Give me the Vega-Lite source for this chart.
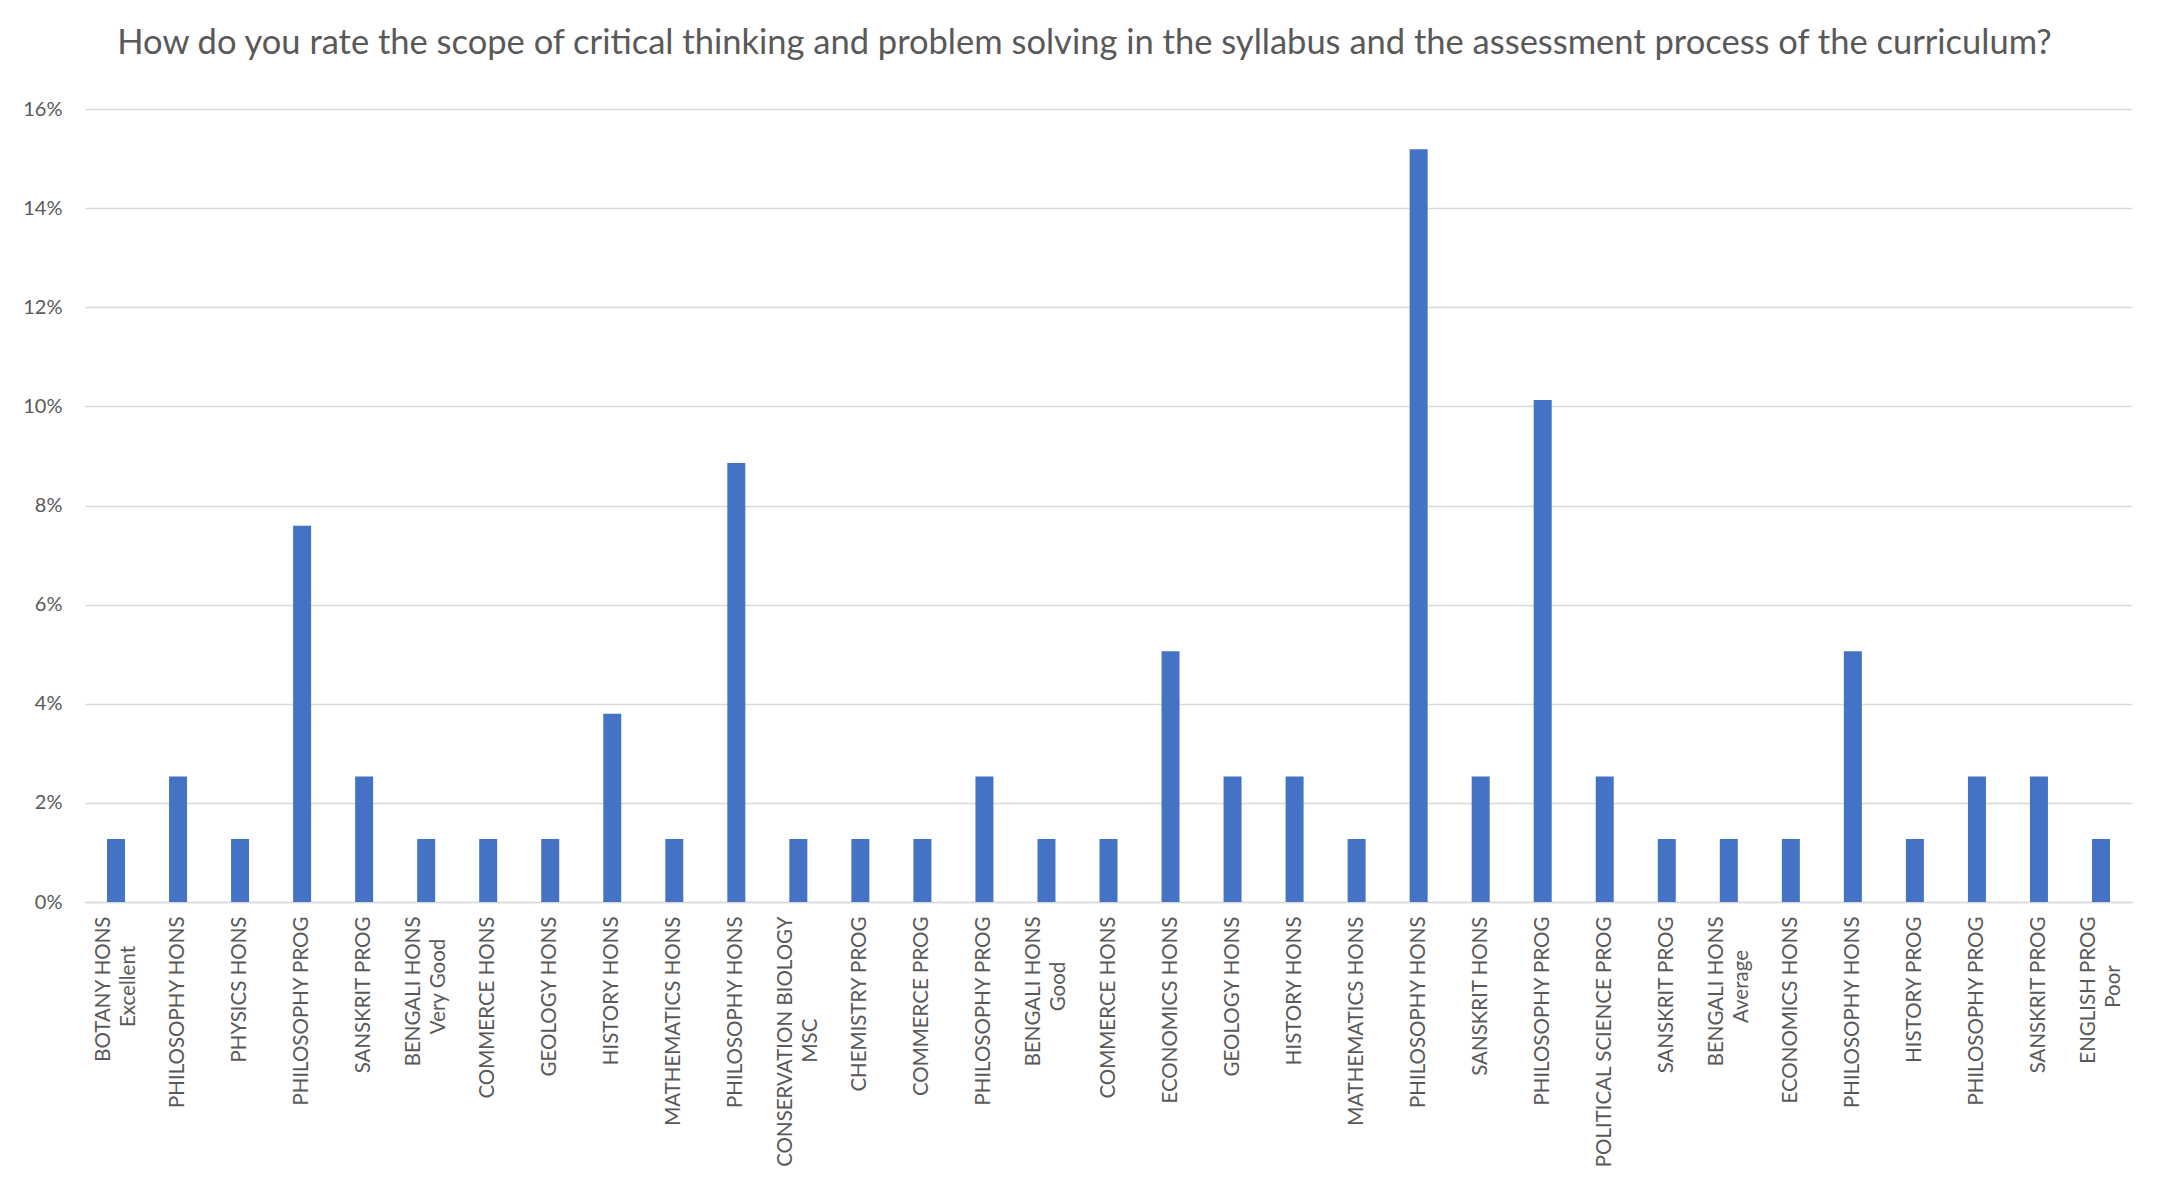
{
  "$schema": "https://vega.github.io/schema/vega-lite/v6.json",
  "width": 2047,
  "height": 793,
  "autosize": "none",
  "padding": {"left": 85, "top": 109, "right": 27, "bottom": 282},
  "background": "white",
  "title": {
    "text": "How do you rate the scope of critical thinking and problem solving in the syllabus and the assessment process of the curriculum?",
    "font": "Lato",
    "fontSize": 34.5,
    "fontWeight": "normal",
    "color": "#595959",
    "anchor": "middle",
    "dx": -24,
    "baseline": "alphabetic",
    "offset": 11
  },
  "data": {
    "values": [
      {"key": "01|BOTANY HONS|Excellent", "pct": 0.0127},
      {"key": "02|PHILOSOPHY HONS|", "pct": 0.0253},
      {"key": "03|PHYSICS HONS|", "pct": 0.0127},
      {"key": "04|PHILOSOPHY PROG|", "pct": 0.0759},
      {"key": "05|SANSKRIT PROG|", "pct": 0.0253},
      {"key": "06|BENGALI HONS|Very Good", "pct": 0.0127},
      {"key": "07|COMMERCE HONS|", "pct": 0.0127},
      {"key": "08|GEOLOGY HONS|", "pct": 0.0127},
      {"key": "09|HISTORY HONS|", "pct": 0.038},
      {"key": "10|MATHEMATICS HONS|", "pct": 0.0127},
      {"key": "11|PHILOSOPHY HONS|", "pct": 0.0886},
      {"key": "12|CONSERVATION BIOLOGY|MSC", "pct": 0.0127},
      {"key": "13|CHEMISTRY PROG|", "pct": 0.0127},
      {"key": "14|COMMERCE PROG|", "pct": 0.0127},
      {"key": "15|PHILOSOPHY PROG|", "pct": 0.0253},
      {"key": "16|BENGALI HONS|Good", "pct": 0.0127},
      {"key": "17|COMMERCE HONS|", "pct": 0.0127},
      {"key": "18|ECONOMICS HONS|", "pct": 0.0506},
      {"key": "19|GEOLOGY HONS|", "pct": 0.0253},
      {"key": "20|HISTORY HONS|", "pct": 0.0253},
      {"key": "21|MATHEMATICS HONS|", "pct": 0.0127},
      {"key": "22|PHILOSOPHY HONS|", "pct": 0.1519},
      {"key": "23|SANSKRIT HONS|", "pct": 0.0253},
      {"key": "24|PHILOSOPHY PROG|", "pct": 0.1013},
      {"key": "25|POLITICAL SCIENCE PROG|", "pct": 0.0253},
      {"key": "26|SANSKRIT PROG|", "pct": 0.0127},
      {"key": "27|BENGALI HONS|Average", "pct": 0.0127},
      {"key": "28|ECONOMICS HONS|", "pct": 0.0127},
      {"key": "29|PHILOSOPHY HONS|", "pct": 0.0506},
      {"key": "30|HISTORY PROG|", "pct": 0.0127},
      {"key": "31|PHILOSOPHY PROG|", "pct": 0.0253},
      {"key": "32|SANSKRIT PROG|", "pct": 0.0253},
      {"key": "33|ENGLISH PROG|Poor", "pct": 0.0127}
    ]
  },
  "layer": [
    {
      "mark": {"type": "bar", "color": "#4472C4"},
      "encoding": {
        "x": {
          "field": "key",
          "type": "nominal",
          "sort": null,
          "scale": {"paddingInner": 0.71, "paddingOuter": 0.355},
          "axis": {
            "orient": "bottom",
            "title": null,
            "labelExpr": "split(datum.value, '|')[1]",
            "labelAngle": -90,
            "labelAlign": "right",
            "labelBaseline": "middle",
            "labelFont": "Lato",
            "labelFontSize": 20.5,
            "labelColor": "#595959",
            "labelPadding": 14,
            "labelLimit": 0,
            "labelOverlap": false,
            "labelOffset": {"condition": {"test": "split(datum.value, '|')[2] != ''", "value": -12}, "value": 0},
            "ticks": false,
            "tickSize": 0,
            "domainColor": "#D9D9D9",
            "domainWidth": 1.5,
            "grid": false
          }
        },
        "y": {
          "field": "pct",
          "type": "quantitative",
          "scale": {"domain": [0, 0.16], "nice": false},
          "axis": {
            "title": null,
            "values": [0, 0.02, 0.04, 0.06, 0.08, 0.1, 0.12, 0.14, 0.16],
            "format": ".0%",
            "labelFont": "Lato",
            "labelFontSize": 20,
            "labelColor": "#595959",
            "labelPadding": 23,
            "domain": false,
            "ticks": false,
            "grid": true,
            "gridColor": "#D9D9D9",
            "gridWidth": 1.3
          }
        }
      }
    },
    {
      "mark": {"type": "bar", "opacity": 0},
      "encoding": {
        "x": {
          "field": "key",
          "type": "nominal",
          "sort": null,
          "axis": {
            "orient": "bottom",
            "title": null,
            "labelExpr": "split(datum.value, '|')[2]",
            "labelAngle": -90,
            "labelAlign": "center",
            "labelBaseline": "middle",
            "labelFont": "Lato",
            "labelFontSize": 20.5,
            "labelColor": "#595959",
            "labelPadding": {"condition": {"test": "split(datum.value, '|')[2] == 'MSC'", "value": 138}, "value": 84},
            "labelOffset": 13,
            "labelLimit": 0,
            "labelOverlap": false,
            "ticks": false,
            "tickSize": 0,
            "domain": false,
            "grid": false
          }
        },
        "y": {"field": "pct", "type": "quantitative"}
      }
    }
  ],
  "resolve": {"axis": {"x": "independent", "y": "shared"}},
  "config": {"view": {"stroke": null}}
}
